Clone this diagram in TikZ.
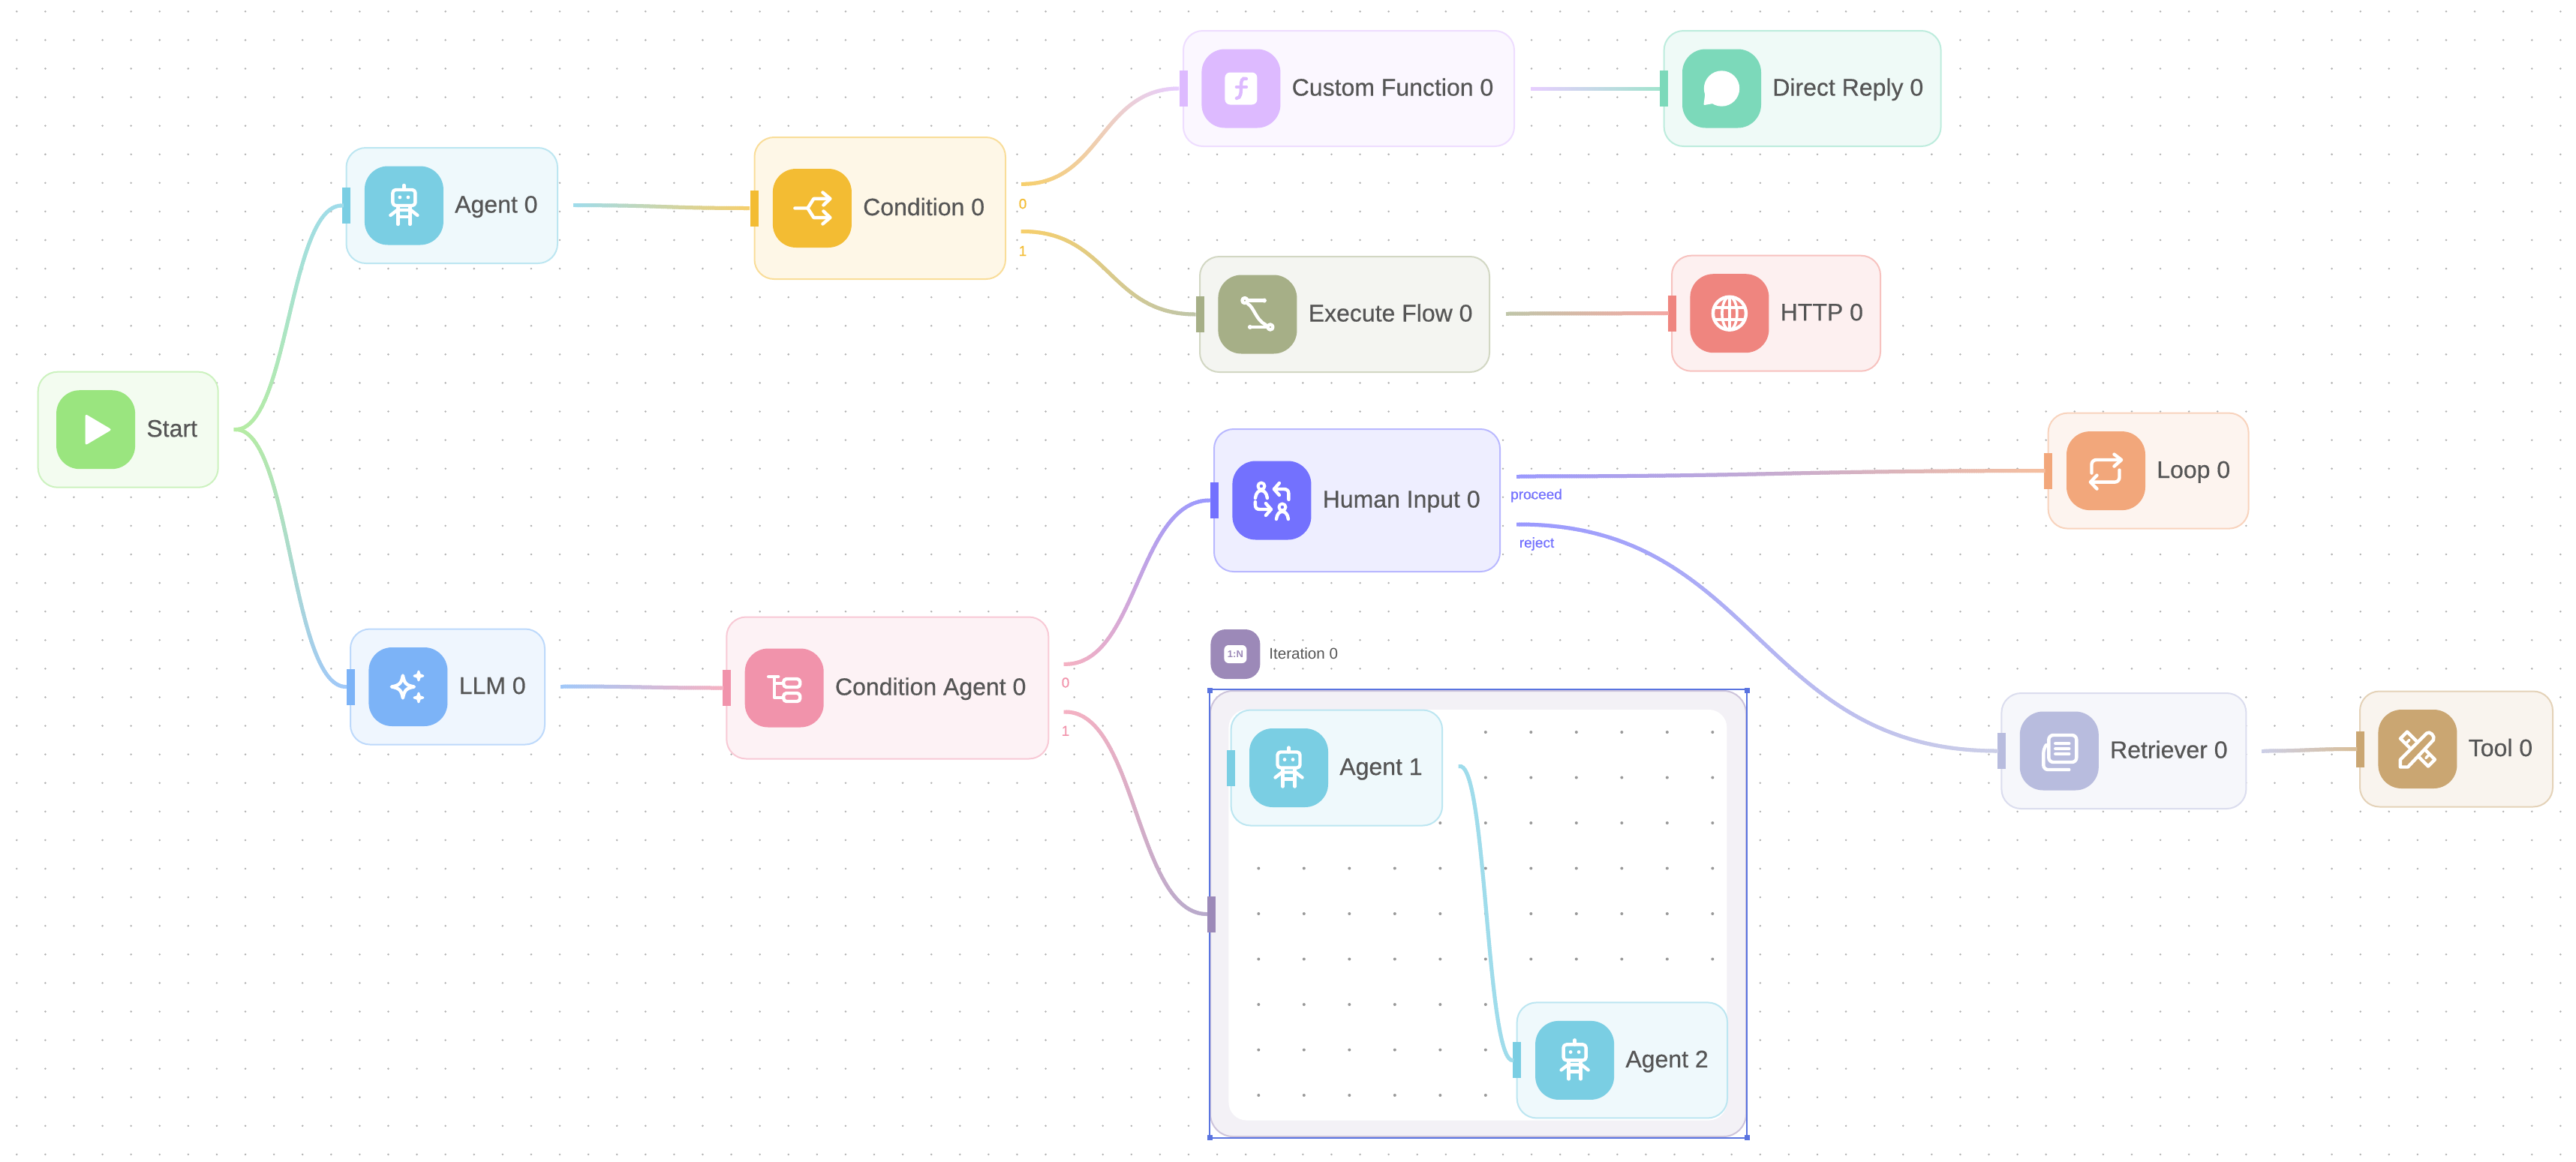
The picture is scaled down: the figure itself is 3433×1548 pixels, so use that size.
\documentclass[tikz,border=0pt]{standalone}
\usepackage{fontspec}
\setmainfont{Liberation Sans}
\newfontfamily\cardfont[FakeBold=0.5]{Liberation Sans}
\usetikzlibrary{calc,decorations.markings}

\definecolor{startc}{HTML}{9AE57F}
\definecolor{agentc}{HTML}{7ACEE3}
\definecolor{condc}{HTML}{F3BC33}
\definecolor{fnc}{HTML}{DDBAFF}
\definecolor{execc}{HTML}{A6AF87}
\definecolor{replyc}{HTML}{7CD9BA}
\definecolor{httpc}{HTML}{EF857F}
\definecolor{humanc}{HTML}{7371FE}
\definecolor{loopc}{HTML}{F2A77B}
\definecolor{condagc}{HTML}{F193AB}
\definecolor{llmc}{HTML}{7CB3F7}
\definecolor{retrc}{HTML}{B8BCDE}
\definecolor{toolc}{HTML}{CAA672}
\definecolor{iterc}{HTML}{9C89B8}
\definecolor{inkc}{HTML}{555555}
\definecolor{selc}{HTML}{5A74E0}

\tikzset{
  card/.style={rectangle,rounded corners=13pt,inner sep=0,anchor=west,line width=1pt,draw=#1!50,fill=#1!12},
  iconbox/.style={rectangle,rounded corners=15.5pt,inner sep=0,minimum size=52.5pt,anchor=west,fill=#1},
  handle/.style={rectangle,inner sep=0,minimum width=5.5pt,minimum height=24pt,fill=#1},
  cardtext/.style={inner sep=0,anchor=base west,text=inkc,font=\cardfont\fontsize{16}{18}\selectfont},
  porttext/.style={inner sep=0,text=#1,font=\cardfont\fontsize{9.5}{11}\selectfont},
  griddot/.style={fill=black!30},
  iconline/.style={white,line width=2.2pt,line cap=round,line join=round},
  wire/.style 2 args={decoration={markings,
      mark=between positions 0 and 1 step 1.5pt with {
        \pgfmathsetmacro\wirepct{\pgfkeysvalueof{/pgf/decoration/mark info/distance from start}/\pgfdecoratedpathlength*100}
        \draw[line width=2.5pt,color=#2!\wirepct!#1!72!white] (-1.2pt,0) -- (1.2pt,0);
      }},decorate},
  pics/robot/.style={code={
      \draw[iconline,rounded corners=2pt] (-15,-21) rectangle (15,0);
      \draw[iconline] (0,-27) -- (0,-21);
      \fill[white] (-5.5,-11) circle (2.4) (5.5,-11) circle (2.4);
      \draw[iconline] (-18,13) -- (-9,6) -- (9,6) -- (18,13);
      \draw[iconline] (-8,2) -- (-8,25) (8,2) -- (8,25) (-8,15) -- (8,15);
  }},
  pics/play/.style={code={
      \fill[white,rounded corners=1.5pt] (-14,-21) -- (-14,21) -- (21.5,0) -- cycle;
  }},
  pics/branch/.style={code={
      \draw[iconline] (-23,0) -- (-6,0) -- (2,-12.6) -- (23,-12.6);
      \draw[iconline] (-6,0) -- (2,12.6) -- (23,12.6);
      \draw[iconline] (14,-21) -- (24,-12.6) -- (15,-4);
      \draw[iconline] (14,21) -- (24,12.6) -- (15,4);
  }},
  pics/fnbox/.style={code={
      \fill[white,rounded corners=3.5pt] (-21.5,-21.5) rectangle (21.5,21.5);
      \draw[fnc,line width=2.2pt,line cap=round] (7,-13) .. controls (1,-15) and (0,-10) .. (0,-3) .. controls (0,5) and (0,13) .. (-6,13);
      \draw[fnc,line width=2.2pt,line cap=round] (-6,-2) -- (7,-2);
  }},
  pics/flowpath/.style={code={
      \draw[iconline] (-17,-18.4) circle (3.5);
      \draw[iconline] (-13,-18.4) -- (8,-18.4);
      \fill[white] (9,-18.4) circle (3);
      \draw[iconline] (-13,-14) .. controls (-5,-10) and (-2,8) .. (11,14);
      \draw[iconline] (-9,17) -- (13,17);
      \fill[white] (-10,17) circle (3);
      \draw[iconline] (17,17) circle (3.5);
  }},
  pics/chat/.style={code={
      \fill[white] (0,0) circle (23.7);
      \fill[white,line join=round,draw=white,line width=1pt] (-21,6) -- (-23,21) -- (-6,18) -- cycle;
  }},
  pics/globe/.style={code={
      \draw[iconline] (0,0) circle (22);
      \draw[iconline,line width=1.8pt] (0,0) ellipse (10 and 22);
      \draw[iconline,line width=1.8pt] (0,-22) -- (0,22) (-20,-8) -- (20,-8) (-20,8) -- (20,8);
  }},
  pics/people/.style={code={
      \draw[iconline,line width=2pt] (-14,-19) circle (4.5);
      \draw[iconline] (-22,-3) .. controls (-21,-10) and (-18,-13) .. (-14,-13) .. controls (-10,-13) and (-7,-10) .. (-6,-3);
      \draw[iconline] (22.5,-1) -- (22.5,-9) .. controls (22.5,-13) and (20,-15) .. (16,-15) -- (3,-15);
      \draw[iconline] (10,-23) -- (3,-15) -- (10,-7);
      \draw[iconline] (-22,2) -- (-22,6) .. controls (-22,10) and (-20,12) .. (-16,12) -- (-1,12);
      \draw[iconline] (-8,4) -- (-1,12) -- (-8,20);
      \draw[iconline,line width=2pt] (14,9) circle (4.5);
      \draw[iconline] (6,25) .. controls (7,18) and (10,15) .. (14,15) .. controls (18,15) and (21,18) .. (22,25);
  }},
  pics/repeat/.style={code={
      \draw[iconline,rounded corners=3pt] (-19,3) -- (-19,-14.6) -- (20,-14.6);
      \draw[iconline] (11,-22) -- (20.6,-14.6) -- (11,-6);
      \draw[iconline,rounded corners=3pt] (18,-1) -- (18,15) -- (-20,15);
      \draw[iconline] (-12,6) -- (-20.6,15) -- (-12,24);
  }},
  pics/tree/.style={code={
      \draw[iconline] (-21,-15) -- (-8,-15) (-13,-15) -- (-13,13) -- (-1,13) (-13,-6) -- (-1,-6);
      \draw[iconline,rounded corners=2pt] (-1,-12) rectangle (21,-1);
      \draw[iconline,rounded corners=2pt] (-1,7) rectangle (21,18);
  }},
  pics/sparkle/.style={code={
      \draw[iconline] (-7,-15) .. controls (-5,-5) and (-3,-2) .. (8,0) .. controls (-3,2) and (-5,5) .. (-7,15) .. controls (-9,5) and (-11,2) .. (-22,0) .. controls (-11,-2) and (-9,-5) .. cycle;
      \foreach \sy in {-14.5,14.5}{
        \fill[white,draw=white,line width=1.4pt,line join=round] (14,\sy-6) -- (15.5,\sy-1.5) -- (20,\sy) -- (15.5,\sy+1.5) -- (14,\sy+6) -- (12.5,\sy+1.5) -- (8,\sy) -- (12.5,\sy-1.5) -- cycle;
      }
  }},
  pics/docs/.style={code={
      \draw[iconline,rounded corners=3pt] (-14,-21) rectangle (23,15);
      \draw[iconline] (-5,-10) -- (13,-10) (-5,-3) -- (13,-3) (-5,4) -- (13,4);
      \draw[iconline,rounded corners=3pt] (-18,-7) -- (-21,-3) -- (-21,25) -- (13,25);
  }},
  pics/tools/.style={code={
      \draw[iconline] (-23,24) -- (-23,14) -- (12,-21) .. controls (16,-25) and (24,-17) .. (21,-12) -- (-13,24) -- cycle;
      \draw[iconline] (-11,-2) -- (-23,-14) -- (-14,-23) -- (-2,-11);
      \draw[iconline] (11,2) -- (23,14) -- (14,23) -- (2,11);
      \draw[iconline,line width=1.8pt] (-16,-7) -- (-11,-12) (16,7) -- (11,12);
  }}
}

\begin{document}
\begin{tikzpicture}[x=.5pt,y=-.5pt]
  \useasboundingbox (0,0) rectangle (3433,1548);
  \foreach \i in {0,...,89}
    \foreach \j in {0,...,40}
      \fill[griddot] (22.3+38.09*\i,15.3+38.09*\j) circle (1.4);

  % iteration frame
  \node[card=iterc,rounded corners=15pt,minimum width=357pt,minimum height=297pt] (iter0) at (1612,1218) {};
  \node[rectangle,rounded corners=12pt,inner sep=0,fill=white,anchor=west,minimum width=332pt,minimum height=273.75pt] (iter0bg) at (1637,1219.75) {};
  \foreach \i in {0,...,10}
    \foreach \j in {0,...,8}
      \fill[black!40] (1677.3+60.5*\i,976+60.5*\j) circle (2);
  \draw[selc,line width=.8pt] (iter0.north west) -- (iter0.south west) (iter0.north east) -- (iter0.south east);
  \draw[selc,line width=1.1pt] ([yshift=.5pt]iter0.north west) -- ([yshift=.5pt]iter0.north east) ([yshift=-.5pt]iter0.south west) -- ([yshift=-.5pt]iter0.south east);
  \foreach \corner in {north west,north east,south west,south east}
    \node[rectangle,inner sep=0,minimum size=3.5pt,fill=selc] (grip \corner) at (iter0.\corner) {};
  \node[iconbox=iterc,minimum size=33pt,rounded corners=10pt] (iter0ic) at (1613,872) {};
  \node[rectangle,rounded corners=3pt,fill=white,inner sep=0,minimum width=15pt,minimum height=12pt,text=iterc,font=\bfseries\fontsize{6.5}{7}\selectfont] (iter0tag) at (iter0ic) {1:N};
  \node[inner sep=0,anchor=west,text=inkc,font=\fontsize{10.3}{13}\selectfont] (iter0tx) at (1691,871) {Iteration 0};
  \node[handle=iterc] (iter0hd) at (1614.5,1218.5) {};

  % free ends of the wires
  \coordinate (startout) at (314,572.5);
  \coordinate (agent0out) at (766,273.6);
  \coordinate (cond0a) at (1363,245.3);
  \coordinate (cond0b) at (1363,308.5);
  \coordinate (fn0out) at (2042,118);
  \coordinate (exec0out) at (2009,418);
  \coordinate (llm0out) at (749,915);
  \coordinate (condag0a) at (1420,885.3);
  \coordinate (condag0b) at (1420,949);
  \coordinate (human0a) at (2023.6,635);
  \coordinate (human0b) at (2023.6,699);
  \coordinate (retr0out) at (3016,1001);
  \coordinate (agent1out) at (1946,1021.7);

  % start has no handle
  \node[card=startc,minimum width=120pt,minimum height=77pt] (start) at (49.7,572.7) {};
  \node[iconbox=startc] (startic) at ([xshift=12.5pt]start.west) {};
  \pic at (startic) {play};
  \node[cardtext] (starttx) at ($(startic.east)+(14.5,9.5)$) {Start};

  \foreach \name/\lft/\cy/\wid/\hgt/\col/\icon/\txt in {
    agent0/460.5/274/281.5/154/agentc/robot/Agent 0,
    cond0/1004.5/277.5/334.5/189/condc/branch/Condition 0,
    fn0/1576/118/441/154/fnc/fnbox/Custom Function 0,
    exec0/1598/419/386/154/execc/flowpath/Execute Flow 0,
    reply0/2216.6/118/369/154/replyc/chat/Direct Reply 0,
    http0/2227/417.7/278/154/httpc/globe/HTTP 0,
    human0/1617/667/381/190/humanc/people/Human Input 0,
    loop0/2728.6/627.6/267/154/loopc/repeat/Loop 0,
    condag0/967.3/917/429/189/condagc/tree/Condition Agent 0,
    llm0/466/915.5/259/154/llmc/sparkle/LLM 0,
    retr0/2666.4/1001/326/154/retrc/docs/Retriever 0,
    tool0/3144/998.5/257/154/toolc/tools/Tool 0,
    agent1/1639.6/1023.5/281.5/154/agentc/robot/Agent 1,
    agent2/2020.7/1413.4/280.3/154/agentc/robot/Agent 2}
  {
    \node[card=\col,minimum width=\wid*.5pt,minimum height=\hgt*.5pt] (\name) at (\lft,\cy) {};
    \node[handle=\col] (\name hd) at ([xshift=.5pt]\name.west) {};
    \node[iconbox=\col] (\name ic) at ([xshift=12.5pt]\name.west) {};
    \pic at (\name ic) {\icon};
    \node[cardtext] (\name tx) at ($(\name ic.east)+(14.5,9.5)$) {\txt};
  }

  \foreach \from/\to/\colA/\colB in {
    startout/agent0hd.west/startc/agentc,
    startout/llm0hd.west/startc/llmc,
    agent0out/cond0hd.west/agentc/condc,
    cond0a/fn0hd.west/condc/fnc,
    cond0b/exec0hd.west/condc/execc,
    fn0out/reply0hd.west/fnc/replyc,
    exec0out/http0hd.west/execc/httpc,
    llm0out/condag0hd.west/llmc/condagc,
    condag0a/human0hd.west/condagc/humanc,
    condag0b/iter0hd.west/condagc/iterc,
    human0a/loop0hd.west/humanc/loopc,
    human0b/retr0hd.west/humanc/retrc,
    retr0out/tool0hd.west/retrc/toolc,
    agent1out/agent2hd.west/agentc/agentc}
  \path[wire={\colA}{\colB}] (\from) .. controls ($(\from)!.5!(\from-|\to)$) and ($(\to)!.5!(\to-|\from)$) .. (\to);

  \node[porttext=condc] (cond0l0) at (1363,271.7) {0};
  \node[porttext=condc] (cond0l1) at (1363,334.5) {1};
  \node[porttext=condagc] (condag0l0) at (1420,910) {0};
  \node[porttext=condagc] (condag0l1) at (1420,974.3) {1};
  \node[porttext=humanc] (human0l0) at (2047.5,660.6) {proceed};
  \node[porttext=humanc] (human0l1) at (2048,725) {reject};
\end{tikzpicture}
\end{document}
